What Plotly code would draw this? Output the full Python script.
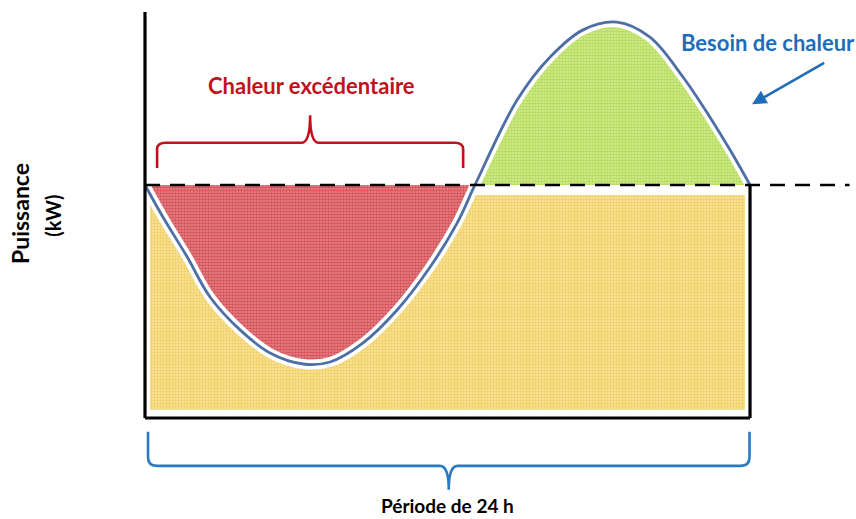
import plotly.graph_objects as go

# ---- data (hours, kW in arbitrary units) ----
hours = [0.0, 0.71, 1.67, 2.58, 3.77, 4.96, 6.27, 7.34, 8.65, 10.0, 11.31, 12.38, 13.09,
         14.76, 16.07, 17.38, 18.72, 20.03, 21.34, 22.41, 23.21, 24.0]
besoin = [57.4, 49.5, 39.7, 29.8, 21.7, 16.0, 13.3, 13.8, 18.5, 26.6, 37.2, 48.0, 57.4,
          78.3, 88.9, 95.6, 97.5, 93.8, 84.0, 74.1, 66.0, 57.4]
production = 57.4          # constant level (dashed line)
period = [0, 24]
cross_idx = 12             # index where the demand crosses the production level

x_range = [-5.752, 28.204]
y_range = [-24.88, 102.96]

fig = go.Figure()

# yellow base (covered production)
fig.add_trace(go.Scatter(
    x=[period[0] + 0.2, period[1] - 0.2, period[1] - 0.2, period[0] + 0.2],
    y=[2.0, 2.0, production - 2.5, production - 2.5],
    fill="toself", mode="none", fillcolor="#f2d879",
    fillpattern=dict(shape=".", fgcolor="#ebba1e", bgcolor="#f6e4a4", size=3, solidity=0.5),
    hoverinfo="skip", showlegend=False))

# red: excess heat (between curve and production level)
fig.add_trace(go.Scatter(
    x=hours[:cross_idx + 1], y=besoin[:cross_idx + 1],
    fill="toself", mode="lines", line=dict(width=0, shape="spline", color="rgba(0,0,0,0)"),
    fillcolor="#d65a60",
    fillpattern=dict(shape=".", fgcolor="#cf1620", bgcolor="#e0898d", size=3, solidity=0.6),
    hoverinfo="skip", showlegend=False))

# green: heat need above production
fig.add_trace(go.Scatter(
    x=hours[cross_idx:], y=besoin[cross_idx:],
    fill="toself", mode="lines", line=dict(width=0, shape="spline", color="rgba(0,0,0,0)"),
    fillcolor="#b8de5c",
    fillpattern=dict(shape=".", fgcolor="#98cc18", bgcolor="#d3eb98", size=3, solidity=0.55),
    hoverinfo="skip", showlegend=False))

# white halo + blue demand curve
fig.add_trace(go.Scatter(x=hours, y=besoin, mode="lines",
                         line=dict(color="white", width=10, shape="spline"),
                         hoverinfo="skip", showlegend=False))
fig.add_trace(go.Scatter(x=hours, y=besoin, mode="lines",
                         line=dict(color="#4d6fa6", width=2.8, shape="spline"),
                         hoverinfo="skip", showlegend=False))

# dashed production line
fig.add_trace(go.Scatter(x=[period[0], 27.95], y=[production, production], mode="lines",
                         line=dict(color="black", width=2.6, dash="15px,10px"),
                         hoverinfo="skip", showlegend=False))

# axes frame
fig.add_shape(type="line", x0=period[0], x1=period[0], y0=0, y1=100,
              line=dict(color="black", width=3.2))
fig.add_shape(type="line", x0=period[0], x1=period[1], y0=0, y1=0,
              line=dict(color="black", width=3.2))
fig.add_shape(type="line", x0=period[1], x1=period[1], y0=0, y1=production,
              line=dict(color="black", width=3.2))

# braces
def brace(x0, x1, y_end, y_bar, y_tip, color, width):
    xm = (x0 + x1) / 2
    r = 0.35
    d = (y_bar - y_end)
    s = 1 if d > 0 else -1
    k = abs(d) * 0.25
    path = (f"M {x0},{y_end} L {x0},{y_bar - s*k} Q {x0},{y_bar} {x0 + r},{y_bar} "
            f"L {xm - r},{y_bar} Q {xm},{y_bar} {xm},{y_tip} "
            f"Q {xm},{y_bar} {xm + r},{y_bar} L {x1 - r},{y_bar} "
            f"Q {x1},{y_bar} {x1},{y_bar - s*k} L {x1},{y_end}")
    fig.add_shape(type="path", path=path, line=dict(color=color, width=width))

brace(0.48, 12.62, 61.6, 67.8, 74.6, "#c1121c", 2.6)
brace(0.12, 23.98, -3.4, -11.8, -17.7, "#2a7ac3", 2.6)

# texts
fig.add_annotation(x=6.6, y=81.8, text="<b>Chaleur excédentaire</b>", showarrow=False,
                   font=dict(family="Lato", size=22, color="#c1121c"))
fig.add_annotation(x=24.7, y=92.6, text="<b>Besoin de chaleur</b>", showarrow=False,
                   font=dict(family="Lato", size=22, color="#1f6db8"))
fig.add_annotation(x=24.08, y=77.3, ax=27.0, ay=87.7, axref="x", ayref="y",
                   text="", showarrow=True, arrowhead=2, arrowsize=1.1, arrowwidth=2.6,
                   arrowcolor="#1f6db8")
fig.add_annotation(x=12.0, y=-21.6, text="<b>Période de 24 h</b>", showarrow=False,
                   font=dict(family="Lato", size=19, color="black"))
fig.add_annotation(x=-4.95, y=50.3, text="<b>Puissance</b>", showarrow=False, textangle=-90,
                   font=dict(family="Lato", size=23, color="black"))
fig.add_annotation(x=-3.65, y=49.8, text="<b>(kW)</b>", showarrow=False, textangle=-90,
                   font=dict(family="Lato", size=20, color="black"))

fig.update_layout(
    width=856, height=519, margin=dict(l=0, r=0, t=0, b=0),
    paper_bgcolor="white", plot_bgcolor="white",
    xaxis=dict(range=x_range, visible=False, fixedrange=True),
    yaxis=dict(range=y_range, visible=False, fixedrange=True),
    showlegend=False,
)

fig.write_html(
    "out.html",
    config={"displayModeBar": False},
    post_script="document.body.style.margin='0';document.body.style.overflow='hidden';",
)
